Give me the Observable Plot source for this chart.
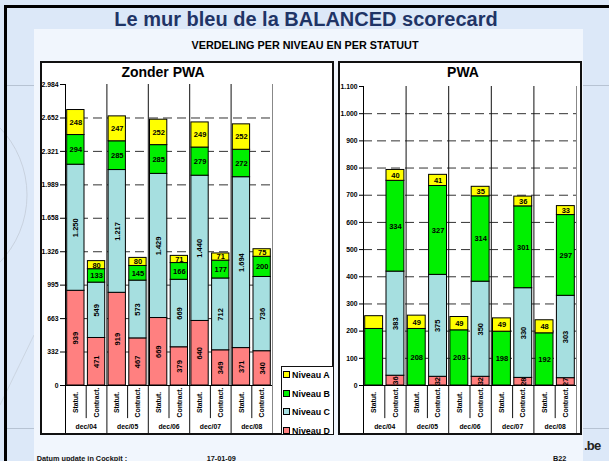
<!DOCTYPE html>
<html>
<head>
<meta charset="utf-8">
<script src="https://cdn.jsdelivr.net/npm/d3@7"></script>
<script src="https://cdn.jsdelivr.net/npm/@observablehq/plot@0.6"></script>
<style>
  html, body { margin: 0; padding: 0; background: #dce8f8; }
  #slide { position: relative; width: 609px; height: 461px; overflow: hidden; background: #dce8f8;
           font-family: "Liberation Sans", Arial, sans-serif; color: #000; }
  .abs { position: absolute; }
  .panel { position: absolute; box-sizing: border-box; border: 2px solid #111; background: #fff; }
  .ptitle { position: absolute; text-align: center; font-weight: bold; font-size: 14px; line-height: 14px; }
  .foot { position: absolute; font-weight: bold; font-size: 7.3px; line-height: 8px; color: #111; white-space: nowrap; }
  #legend { position: absolute; left: 281px; top: 366px; width: 53px; height: 69px; box-sizing: border-box;
            border: 1.5px solid #111; background: #fff; }
  .litem { position: absolute; left: 1px; font-weight: bold; font-size: 8.9px; line-height: 10px; white-space: nowrap; }
  .sw { display: inline-block; width: 5px; height: 5px; border: 1px solid #000; margin-right: 2px; vertical-align: 0px; }
</style>
</head>
<body>
<div id="slide">
  <svg class="abs" style="left:0;top:0" width="609" height="461">
    <line x1="7" y1="85.5" x2="609" y2="85.5" stroke="#b7c3d3" stroke-width="1"/>
    <line x1="7" y1="428.5" x2="609" y2="428.5" stroke="#b7c3d3" stroke-width="1"/>
    <circle cx="-70" cy="195" r="97" fill="none" stroke="#c3ccd8" stroke-width="0.8"/>
    <line x1="0" y1="405" x2="34" y2="335" stroke="#c8d1dc" stroke-width="0.8"/>
  </svg>
  <div class="abs" style="left:4px;top:5px;width:605px;height:2.5px;background:#000"></div>
  <div class="abs" style="left:4px;top:5px;width:3px;height:456px;background:#000"></div>
  <div class="abs" style="left:34px;top:29px;width:549px;height:432px;background:#f1f6fd"></div>

  <div class="abs" style="left:106px;top:9px;width:400px;text-align:center;font-weight:bold;font-size:20px;line-height:20px;color:#1f3466;white-space:nowrap">Le mur bleu de la BALANCED scorecard</div>
  <div class="abs" style="left:155px;top:39.6px;width:300px;text-align:center;font-weight:bold;font-size:10.8px;line-height:11px;white-space:nowrap">VERDELING PER NIVEAU EN PER STATUUT</div>

  <div class="panel" style="left:40px;top:61px;width:294px;height:374px"></div>
  <div class="panel" style="left:338px;top:61px;width:244px;height:374px"></div>
  <div class="ptitle" style="left:63px;top:64.5px;width:200px">Zonder PWA</div>
  <div class="ptitle" style="left:363px;top:64.5px;width:200px">PWA</div>

  <div class="abs" id="chartL" style="left:40px;top:61px"></div>
  <div class="abs" id="chartR" style="left:338px;top:61px"></div>
  <div id="legend"></div>

  <div class="foot" style="left:36.7px;top:454.5px">Datum update in Cockpit :</div>
  <div class="foot" style="left:206.7px;top:454.5px">17-01-09</div>
  <div class="foot" style="left:553px;top:454.5px">B22</div>
  <div class="abs" style="left:584px;top:439px;font-weight:bold;font-size:13px;line-height:14px;letter-spacing:-0.8px;color:#222">.be</div>
</div>
<script>
// ---------- data ----------
const periods = ["dec/04", "dec/05", "dec/06", "dec/07", "dec/08"];
const types = ["Statut.", "Contract."];
const levels = ["Niveau D", "Niveau C", "Niveau B", "Niveau A"];          // bottom -> top
const levelColors = ["#ff8080", "#a6dfe0", "#00f000", "#ffff00"];
const rotatedLevels = ["Niveau D", "Niveau C"];

// Zonder PWA, one value per bar: dec/04 Statut., dec/04 Contract., dec/05 Statut., ...
const zonderD = [939, 471, 919, 467, 669, 379, 640, 349, 371, 340];
const zonderC = [1250, 549, 1217, 573, 1429, 669, 1440, 712, 1694, 736];
const zonderB = [294, 133, 285, 145, 285, 166, 279, 177, 272, 200];
const zonderA = [248, 80, 247, 80, 252, 71, 249, 71, 252, 75];
const zonderTicks = [0, 332, 663, 995, 1326, 1658, 1989, 2321, 2652, 2984];

// PWA
const pwaD = [0, 36, 0, 32, 0, 32, 0, 28, 0, 27];
const pwaC = [0, 383, 0, 375, 0, 350, 0, 330, 0, 303];
const pwaB = [208, 334, 208, 327, 203, 314, 198, 301, 192, 297];
const pwaA = [47, 40, 49, 41, 49, 35, 49, 36, 48, 33];
const pwaTicks = [0, 100, 200, 300, 400, 500, 600, 700, 800, 900, 1000, 1100];
const pwaUnlabelled = ["dec/04 Statut."];

// ---------- helpers ----------
const fmt = d3.formatLocale({decimal: ",", thousands: ".", grouping: [3], currency: ["", ""]}).format(",d");
const bars = periods.flatMap(p => types.map(t => ({period: p, type: t, name: p + " " + t})));

function drawChart(cfg) {
  const {series, ticks, width, height, marginLeft, marginRight, marginTop, marginBottom, tickSize, unlabelled = []} = cfg;
  const yMax = ticks[ticks.length - 1];
  const axisPx = 48;
  const plotH = height - marginTop - marginBottom;
  const axisU = yMax * axisPx / (plotH - axisPx);
  const segs = [];
  bars.forEach((b, k) => {
    let base = 0;
    levels.forEach((lev, j) => {
      const v = series[j][k];
      if (v > 0) segs.push({k, level: lev, y1: base, y2: base + v, v,
        rot: rotatedLevels.includes(lev), show: !unlabelled.includes(b.name)});
      base += v;
    });
  });
  const nBars = bars.length;
  const groupEdges = d3.range(1, periods.length).map(i => i * types.length);
  const innerEdges = d3.range(nBars).filter(k => k % types.length !== 0);
  const labelStyle = {fontSize: 7.5, fontWeight: "bold", fill: "#000"};
  return Plot.plot({
    width, height, marginLeft, marginRight, marginTop, marginBottom,
    style: {background: "transparent", fontFamily: "'Liberation Sans', Arial, sans-serif",
            fontSize: "6.8px", fontWeight: "bold", color: "#000", overflow: "visible"},
    x: {domain: [0, nBars], axis: null},
    y: {domain: [-axisU, yMax], ticks, tickFormat: fmt, tickSize, tickPadding: 2, label: null},
    color: {domain: levels, range: levelColors},
    marks: [
      Plot.ruleY(ticks.slice(1, -1), {stroke: "#333", strokeDasharray: "9,5"}),
      Plot.ruleX(groupEdges, {stroke: "#111"}),
      Plot.ruleX(innerEdges, {y1: () => 0, y2: () => -axisU * 0.69, stroke: "#111"}),
      Plot.ruleX([nBars], {stroke: "#888"}),
      Plot.rect(segs, {x1: "k", x2: d => d.k + 1, y1: "y1", y2: "y2", fill: "level",
                       stroke: "#000", strokeWidth: 1, insetLeft: 1.7, insetRight: 1.7}),
      Plot.ruleY([0], {stroke: "#000"}),
      Plot.ruleX([0], {stroke: "#000"}),
      Plot.text(segs.filter(d => d.show && !d.rot), {x: d => d.k + 0.5, y: d => (d.y1 + d.y2) / 2,
                text: d => fmt(d.v), ...labelStyle}),
      Plot.text(segs.filter(d => d.show && d.rot), {x: d => d.k + 0.5, y: d => (d.y1 + d.y2) / 2,
                text: d => fmt(d.v), rotate: -90, ...labelStyle}),
      Plot.text(bars, {x: (d, k) => k + 0.5, y: () => 0, dy: 17, rotate: -90, text: "type",
                fontSize: 6.8, fontWeight: "bold", fill: "#000"}),
      Plot.text(periods, {x: (d, i) => i * types.length + types.length / 2, frameAnchor: "bottom", dy: -5,
                text: d => d, fontSize: 6.8, fontWeight: "bold", fill: "#000"})
    ]
  });
}

document.getElementById("chartL").append(drawChart({
  series: [zonderD, zonderC, zonderB, zonderA], ticks: zonderTicks,
  width: 294, height: 374, marginLeft: 25, marginRight: 62, marginTop: 23, marginBottom: 2, tickSize: 5
}));
document.getElementById("chartR").append(drawChart({
  series: [pwaD, pwaC, pwaB, pwaA], ticks: pwaTicks, unlabelled: pwaUnlabelled,
  width: 244, height: 374, marginLeft: 25, marginRight: 6, marginTop: 25, marginBottom: 2, tickSize: 4
}));

// legend (top -> bottom: A, B, C, D)
const legend = document.getElementById("legend");
const legendTops = [3, 21.5, 40, 58.5];
levels.slice().reverse().forEach((lev, i) => {
  const item = document.createElement("div");
  item.className = "litem";
  item.style.top = legendTops[i] + "px";
  const sw = document.createElement("span");
  sw.className = "sw";
  sw.style.background = levelColors[levels.indexOf(lev)];
  item.append(sw, document.createTextNode(lev));
  legend.append(item);
});
</script>
</body>
</html>
